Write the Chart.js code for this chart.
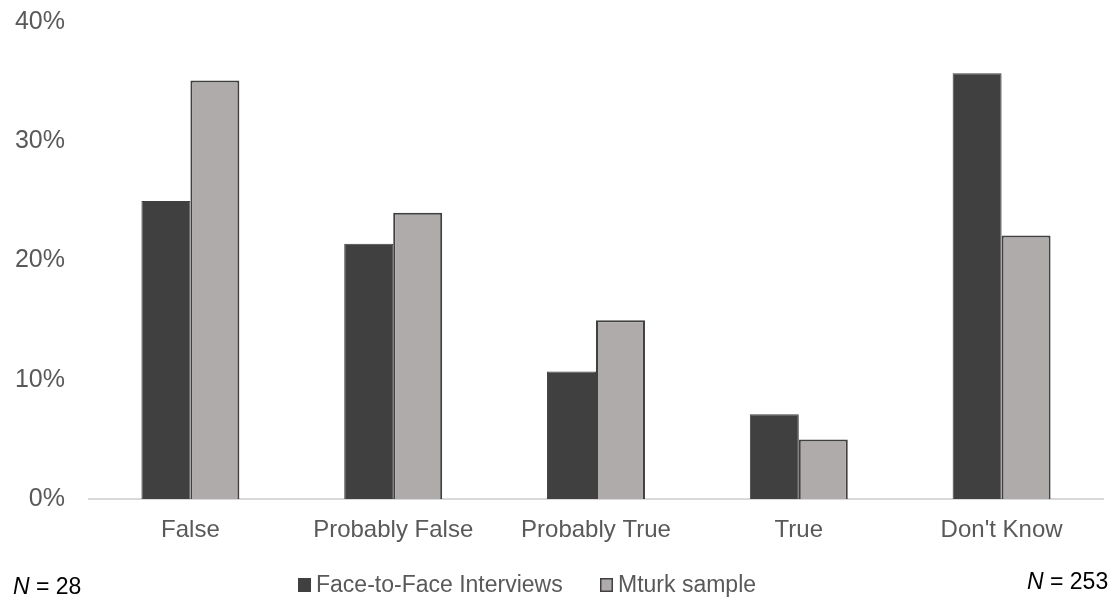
<!DOCTYPE html>
<html>
<head>
<meta charset="utf-8">
<script src="https://cdn.jsdelivr.net/npm/chart.js@4.4.1/dist/chart.umd.min.js"></script>
<style>
  html, body { margin: 0; padding: 0; background: #ffffff; }
  #wrap { width: 1119px; height: 603px; position: relative; }
</style>
</head>
<body>
<div id="wrap"><canvas id="chart" width="1119" height="603"></canvas></div>
<script>
// Answer categories
const categories = ['False', 'Probably False', 'Probably True', 'True', "Don't Know"];
// Share of respondents (%) per answer
const faceToFace = [25.0, 21.4, 10.7, 7.1, 35.7];
const mturk = [35.1, 24.0, 15.0, 5.0, 22.1];
const seriesNames = ['Face-to-Face Interviews', 'Mturk sample'];
// Sample sizes shown beneath the chart
const sampleSizes = ['28', '253'];

const FONT = '"Liberation Sans", Arial, sans-serif';
const DARK = '#404040';
const LIGHT = '#AFABAB';

// Legend and sample-size notes drawn beneath the axis
const footerPlugin = {
  id: 'footer',
  afterDraw(chart) {
    const ctx = chart.ctx;
    ctx.save();
    ctx.textBaseline = 'middle';
    ctx.font = '23px ' + FONT;
    const y = 585;
    // legend entries
    const items = [
      { x: 298, fill: DARK, stroke: DARK, label: seriesNames[0] },
      { x: 600, fill: LIGHT, stroke: DARK, label: seriesNames[1] }
    ];
    items.forEach(it => {
      ctx.fillStyle = it.fill;
      ctx.fillRect(it.x, y - 7, 13, 14);
      ctx.strokeStyle = it.stroke;
      ctx.lineWidth = 1.5;
      ctx.strokeRect(it.x + 0.75, y - 6.25, 11.5, 12.5);
      ctx.fillStyle = '#595959';
      ctx.textAlign = 'left';
      ctx.fillText(it.label, it.x + 18, y + 1);
    });
    // sample sizes
    const drawN = (x, yy, n) => {
      ctx.fillStyle = '#000000';
      ctx.textAlign = 'left';
      ctx.font = 'italic 23px ' + FONT;
      ctx.fillText('N', x, yy);
      let w = ctx.measureText('N').width;
      ctx.font = '23px ' + FONT;
      ctx.fillText(' = ' + n, x + w, yy);
    };
    drawN(13, 588, sampleSizes[0]);
    drawN(1027, 583, sampleSizes[1]);
    ctx.restore();
  }
};

new Chart(document.getElementById('chart'), {
  type: 'bar',
  data: {
    labels: categories,
    datasets: [
      {
        label: seriesNames[0],
        data: faceToFace,
        backgroundColor: DARK,
        borderColor: DARK,
        borderWidth: 1,
        barPercentage: 1,
        categoryPercentage: 0.483
      },
      {
        label: seriesNames[1],
        data: mturk,
        backgroundColor: LIGHT,
        borderColor: DARK,
        borderWidth: 2,
        barPercentage: 1,
        categoryPercentage: 0.483
      }
    ]
  },
  options: {
    responsive: false,
    animation: false,
    devicePixelRatio: 1,
    layout: { padding: { top: 22, right: 16, left: 0, bottom: 0 } },
    plugins: {
      legend: { display: false },
      tooltip: { enabled: false }
    },
    scales: {
      x: {
        grid: { display: false, drawTicks: false },
        border: { display: true, color: '#d9d9d9', width: 2 },
        ticks: {
          color: '#595959',
          font: { family: FONT, size: 24 },
          padding: 17,
          maxRotation: 0,
          autoSkip: false
        },
        afterFit(scale) { scale.height = 104; }
      },
      y: {
        min: 0,
        max: 40,
        grid: { display: false, drawTicks: false },
        border: { display: false },
        ticks: {
          stepSize: 10,
          color: '#595959',
          font: { family: FONT, size: 25 },
          padding: 24,
          callback: v => v + '%'
        },
        afterFit(scale) {
          scale.width = 89;
          scale.paddingTop = 0;
          scale.paddingBottom = 0;
        }
      }
    }
  },
  plugins: [footerPlugin]
});
</script>
</body>
</html>
